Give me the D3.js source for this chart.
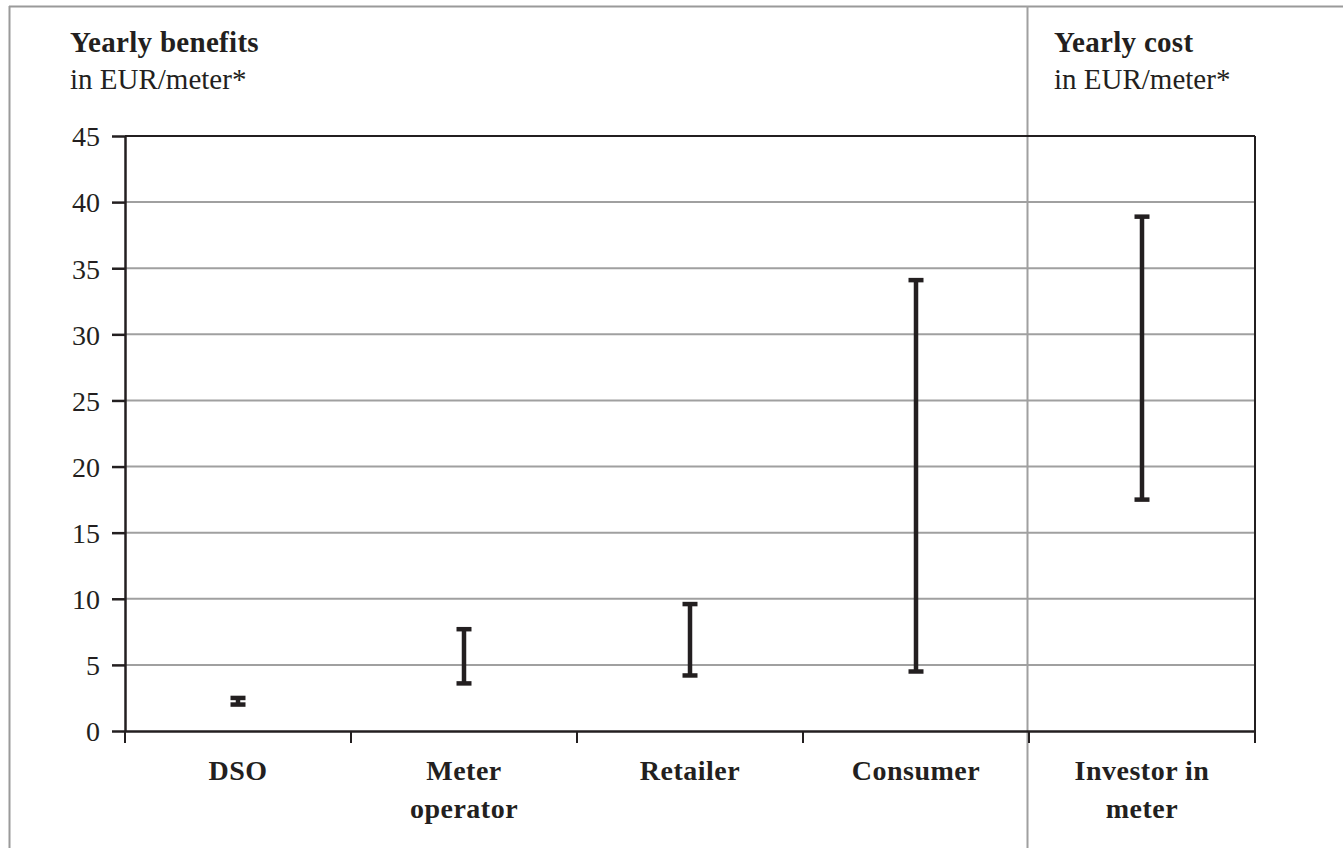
<!DOCTYPE html>
<html><head><meta charset="utf-8">
<script src="https://cdn.jsdelivr.net/npm/d3@7"></script>
<style>body{margin:0;background:#fff}svg{display:block}</style>
</head><body>
<svg id="c" width="1343" height="848"></svg>
<script>
const categories = [["DSO"], ["Meter", "operator"], ["Retailer"], ["Consumer"], ["Investor in", "meter"]];
const lowValues = [2.0, 3.6, 4.2, 4.5, 17.5];
const highValues = [2.5, 7.7, 9.6, 34.1, 38.9];
const yTicks = [0, 5, 10, 15, 20, 25, 30, 35, 40, 45];
const panelTitles = [["Yearly benefits", "in EUR/meter*"], ["Yearly cost", "in EUR/meter*"]];

(function () {
const svg = d3.select("#c");
const font = "'Liberation Serif', 'DejaVu Serif', serif";
const ink = "#231f20";
const pL = 125, pR = 1255, pT = 136, pB = 731;

const x = d3.scaleBand().domain(d3.range(categories.length)).range([pL, pR]).padding(0);
const y = d3.scaleLinear().domain([0, 45]).range([pB, pT]);

// outer frame
svg.append("line").attr("x1", 9).attr("x2", 1343).attr("y1", 6.5).attr("y2", 6.5).attr("stroke", "#9a9a9a").attr("stroke-width", 2);
svg.append("line").attr("x1", 9.5).attr("x2", 9.5).attr("y1", 6).attr("y2", 848).attr("stroke", "#9a9a9a").attr("stroke-width", 2);

// gridlines
svg.append("g").selectAll("line").data(yTicks.filter(t => t > 0 && t < 45)).join("line")
  .attr("x1", pL).attr("x2", pR).attr("y1", d => y(d)).attr("y2", d => y(d))
  .attr("stroke", "#a0a0a0").attr("stroke-width", 2);

// divider
svg.append("line").attr("x1", 1027.5).attr("x2", 1027.5).attr("y1", 6).attr("y2", 848).attr("stroke", "#a0a0a0").attr("stroke-width", 2);

// plot frame top and right
svg.append("line").attr("x1", pL).attr("x2", pR).attr("y1", pT).attr("y2", pT).attr("stroke", ink).attr("stroke-width", 2);
svg.append("line").attr("x1", pR).attr("x2", pR).attr("y1", pT).attr("y2", pB + 12).attr("stroke", ink).attr("stroke-width", 2);

// y axis
const yAxis = svg.append("g").attr("transform", `translate(${pL},0)`)
  .call(d3.axisLeft(y).tickValues(yTicks).tickSize(13).tickPadding(12).tickSizeOuter(0));
yAxis.select(".domain").attr("stroke", ink).attr("stroke-width", 2.5);
yAxis.selectAll(".tick line").attr("stroke", ink).attr("stroke-width", 2.5);
yAxis.selectAll(".tick text").attr("font-family", font).attr("font-size", 28).attr("fill", ink).attr("dy", "0.35em");

// x axis
const xAxis = svg.append("g").attr("transform", `translate(0,${pB})`)
  .call(d3.axisBottom(x).tickValues([]).tickSizeOuter(0));
xAxis.select(".domain").attr("stroke", ink).attr("stroke-width", 2.5);
const bounds = d3.range(categories.length + 1).map(i => i < categories.length ? x(i) : x(i - 1) + x.bandwidth());
xAxis.selectAll("line.bt").data(bounds).join("line").attr("class", "bt")
  .attr("x1", d => d).attr("x2", d => d).attr("y1", 0).attr("y2", 12)
  .attr("stroke", ink).attr("stroke-width", 2);

// category labels
const lab = svg.append("g");
categories.forEach((lines, i) => {
  const cx = x(i) + x.bandwidth() / 2;
  const t = lab.append("text").attr("x", cx).attr("y", 780)
    .attr("text-anchor", "middle").attr("font-family", font).attr("font-weight", "bold")
    .attr("font-size", 28).attr("letter-spacing", "0.5px").attr("fill", ink);
  lines.forEach((l, j) => t.append("tspan").attr("x", cx).attr("dy", j ? 38 : 0).text(l));
});

// error bars
const capW = 15;
const bars = svg.append("g");
categories.forEach((c, i) => {
  const cx = x(i) + x.bandwidth() / 2;
  const g = bars.append("g").attr("stroke", ink).attr("stroke-width", 4.5);
  g.append("line").attr("x1", cx).attr("x2", cx).attr("y1", y(lowValues[i])).attr("y2", y(highValues[i]));
  g.append("line").attr("x1", cx - capW / 2).attr("x2", cx + capW / 2).attr("y1", y(lowValues[i])).attr("y2", y(lowValues[i]));
  g.append("line").attr("x1", cx - capW / 2).attr("x2", cx + capW / 2).attr("y1", y(highValues[i])).attr("y2", y(highValues[i]));
});

// panel titles
const titleX = [70, 1054];
panelTitles.forEach((p, i) => {
  svg.append("text").attr("x", titleX[i]).attr("y", 52).attr("font-family", font).attr("font-weight", "bold")
    .attr("font-size", 29).attr("letter-spacing", "0.3px").attr("fill", ink).text(p[0]);
  svg.append("text").attr("x", titleX[i]).attr("y", 89).attr("font-family", font)
    .attr("font-size", 29).attr("fill", ink).text(p[1]);
});
})();
</script>
</body></html>
